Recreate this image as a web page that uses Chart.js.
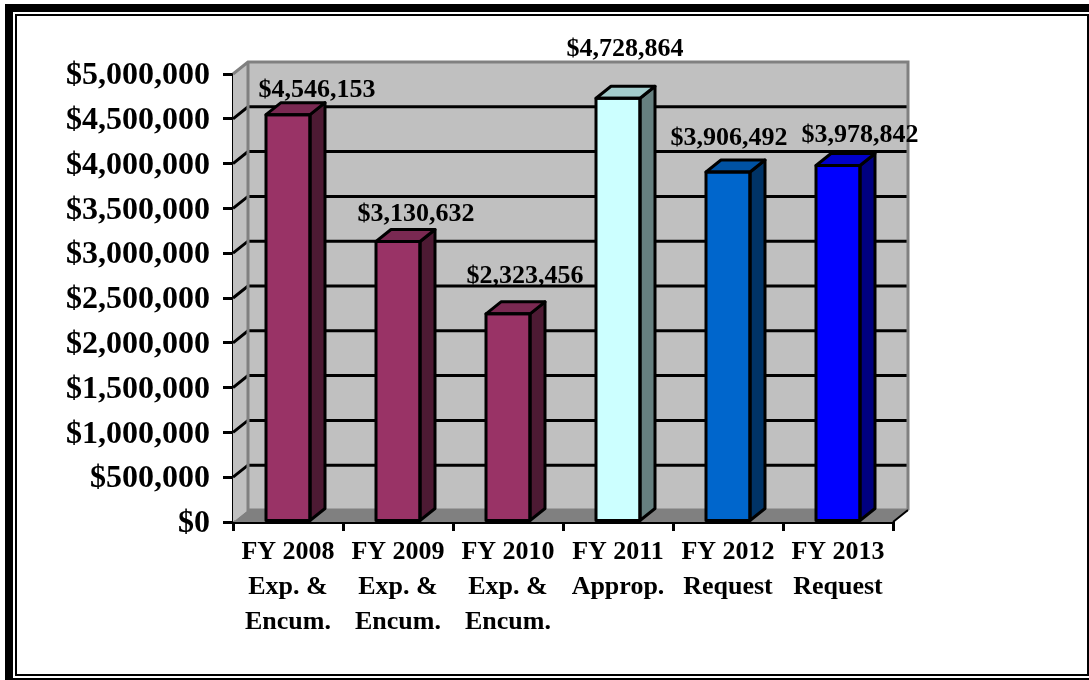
<!DOCTYPE html>
<html>
<head>
<meta charset="utf-8">
<script src="https://cdn.jsdelivr.net/npm/chart.js@4/dist/chart.umd.min.js"></script>
<style>
  html, body { margin: 0; padding: 0; background: #fff; }
  #wrap { width: 1089px; height: 680px; }
</style>
</head>
<body>
<div id="wrap"><canvas id="budgetChart" width="1089" height="680"></canvas></div>
<script>
// data
const categories = [
  ['FY 2008', 'Exp. &', 'Encum.'],
  ['FY 2009', 'Exp. &', 'Encum.'],
  ['FY 2010', 'Exp. &', 'Encum.'],
  ['FY 2011', 'Approp.'],
  ['FY 2012', 'Request'],
  ['FY 2013', 'Request']
];
const budgetValues = [4546153, 3130632, 2323456, 4728864, 3906492, 3978842];
const yTickStep = 500000;
const yMax = 5000000;

// face colours of each bar
const frontColors = ['#993366', '#993366', '#993366', '#CCFFFF', '#0066CC', '#0000FF'];
const sideColors = ['#4D1A33', '#4D1A33', '#4D1A33', '#668080', '#003366', '#000080'];
const topColors = ['#7A2952', '#7A2952', '#7A2952', '#A3CCCC', '#0052A3', '#0000CC'];

// the data labels were placed by hand in the original, so each has its own nudge
const labelNudgeX = [29, 18, 17, 7, 1, 22];
const labelNudgeY = [-24, -27, -38, -49, -34, -30];

const depthX = 15;
const depthY = 12;
const fontFamily = '"Liberation Serif", "Times New Roman", serif';

const fmt = v => '$' + Number(v).toLocaleString('en-US');

const poly = (ctx, pts, fill, stroke, lw) => {
  ctx.beginPath();
  pts.forEach((p, i) => i ? ctx.lineTo(p[0], p[1]) : ctx.moveTo(p[0], p[1]));
  ctx.closePath();
  if (fill) { ctx.fillStyle = fill; ctx.fill(); }
  if (stroke) { ctx.strokeStyle = stroke; ctx.lineWidth = lw; ctx.lineJoin = 'round'; ctx.stroke(); }
};

// double frame round the whole picture
const framePlugin = {
  id: 'frame',
  beforeDraw(chart) {
    const ctx = chart.ctx;
    ctx.save();
    ctx.fillStyle = '#000';
    ctx.fillRect(5, 4, 1084, 8);
    ctx.fillRect(5, 4, 8, 676);
    ctx.fillStyle = '#fff';
    ctx.fillRect(13, 12, 1076, 668);
    ctx.strokeStyle = '#000';
    ctx.lineWidth = 2;
    ctx.strokeRect(16, 15, 1072, 660);
    ctx.fillStyle = '#000';
    ctx.fillRect(5, 678, 1084, 2);
    ctx.restore();
  }
};

// back wall, side wall, floor and the gridlines on them
const wallsPlugin = {
  id: 'walls',
  beforeDatasetsDraw(chart) {
    const ctx = chart.ctx;
    const { left, right, top, bottom } = chart.chartArea;
    const y = chart.scales.y;
    ctx.save();
    poly(ctx, [[left + depthX, top - depthY], [right + depthX, top - depthY], [right + depthX, bottom - depthY], [left + depthX, bottom - depthY]], '#C0C0C0');
    poly(ctx, [[left, top], [left + depthX, top - depthY], [left + depthX, bottom - depthY], [left, bottom]], '#C0C0C0');
    poly(ctx, [[left, bottom], [left + depthX, bottom - depthY], [right + depthX, bottom - depthY], [right, bottom]], '#808080');

    ctx.strokeStyle = '#000';
    ctx.lineWidth = 3;
    y.ticks.forEach(t => {
      if (t.value === 0 || t.value === yMax) return;
      const py = y.getPixelForValue(t.value);
      ctx.beginPath();
      ctx.moveTo(left, py);
      ctx.lineTo(left + depthX, py - depthY);
      ctx.lineTo(right + depthX - 1, py - depthY);
      ctx.stroke();
    });

    // grey edges of the box
    ctx.strokeStyle = '#808080';
    ctx.lineWidth = 3;
    ctx.beginPath();
    ctx.moveTo(left, top);
    ctx.lineTo(left + depthX, top - depthY);
    ctx.lineTo(right + depthX, top - depthY);
    ctx.lineTo(right + depthX, bottom - depthY);
    ctx.moveTo(left + depthX, top - depthY);
    ctx.lineTo(left + depthX, bottom - depthY);
    ctx.lineTo(right + depthX, bottom - depthY);
    ctx.stroke();

    // floor edges in black
    ctx.strokeStyle = '#000';
    ctx.lineWidth = 2;
    ctx.beginPath();
    ctx.moveTo(right, bottom);
    ctx.lineTo(right + depthX, bottom - depthY);
    ctx.stroke();
    ctx.restore();
  }
};

// top and side faces of the bars, then the value labels
const barFacesPlugin = {
  id: 'barFaces',
  afterDatasetsDraw(chart) {
    const ctx = chart.ctx;
    const meta = chart.getDatasetMeta(0);
    ctx.save();
    meta.data.forEach((bar, i) => {
      const l = bar.x - bar.width / 2;
      const r = bar.x + bar.width / 2;
      const t = bar.y;
      const b = bar.base;
      poly(ctx, [[r, t], [r + depthX, t - depthY], [r + depthX, b - depthY], [r, b]], sideColors[i], '#000', 3);
      poly(ctx, [[l, t], [l + depthX, t - depthY], [r + depthX, t - depthY], [r, t]], topColors[i], '#000', 3);
      poly(ctx, [[l, t], [r, t], [r, b], [l, b]], null, '#000', 3);
    });
    ctx.fillStyle = '#000';
    ctx.font = 'bold 26px ' + fontFamily;
    ctx.textAlign = 'center';
    ctx.textBaseline = 'middle';
    meta.data.forEach((bar, i) => {
      ctx.fillText(fmt(budgetValues[i]), bar.x + labelNudgeX[i], bar.y + labelNudgeY[i]);
    });
    ctx.restore();
  }
};

new Chart(document.getElementById('budgetChart').getContext('2d'), {
  type: 'bar',
  data: {
    labels: categories,
    datasets: [{
      data: budgetValues,
      backgroundColor: frontColors,
      categoryPercentage: 1,
      barPercentage: 0.4
    }]
  },
  plugins: [framePlugin, wallsPlugin, barFacesPlugin],
  options: {
    responsive: false,
    animation: false,
    layout: { padding: { top: 74, right: 196, left: 0, bottom: 0 } },
    plugins: { legend: { display: false }, tooltip: { enabled: false } },
    scales: {
      x: {
        grid: { drawOnChartArea: false, drawTicks: true, tickLength: 9, color: '#000', lineWidth: 3, offset: true },
        border: { display: true, color: '#000', width: 3 },
        ticks: {
          color: '#000',
          maxRotation: 0,
          autoSkip: false,
          padding: 4,
          font: { family: fontFamily, weight: 'bold', size: 26, lineHeight: 1.35 }
        },
        afterFit(scale) { scale.height = 158; }
      },
      y: {
        min: 0,
        max: yMax,
        grid: { drawOnChartArea: false, drawTicks: true, tickLength: 10, color: '#000', lineWidth: 3 },
        border: { display: true, color: '#000', width: 3 },
        ticks: {
          color: '#000',
          stepSize: yTickStep,
          padding: 13,
          labelOffset: 2,
          callback: v => fmt(v),
          font: { family: fontFamily, weight: 'bold', size: 32 }
        },
        afterFit(scale) { scale.width = 233; }
      }
    }
  }
});
</script>
</body>
</html>
